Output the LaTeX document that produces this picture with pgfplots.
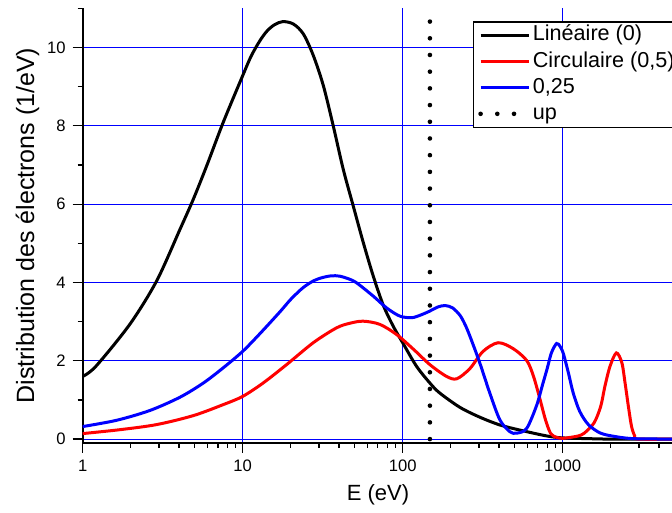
\documentclass[border=0pt]{standalone}
\usepackage{fontspec}
\setmainfont{Liberation Sans}
\usepackage{pgfplots}
\pgfplotsset{compat=1.18}
\begin{document}
\begin{tikzpicture}
\begin{axis}[
  scale only axis, width=294.65pt, height=217.35pt,
  xmode=log, xmin=1, xmax=4822, ymin=-0.1, ymax=11,
  axis x line=bottom, axis y line=left,
  axis line style={-, line width=1pt, black},
  xtick={1,10,100,1000}, xticklabels={1,10,100,1000},
  minor xtick={2,3,4,5,6,7,8,9,20,30,40,50,60,70,80,90,200,300,400,500,600,700,800,900,2000,3000,4000},
  ytick={0,2,4,6,8,10}, minor ytick={1,3,5,7,9,11},
  tick align=outside, major tick length=5pt, minor tick length=2.5pt,
  tick style={black, line width=0.6pt},
  xmajorgrids, ymajorgrids,
  major grid style={blue, line width=0.5pt},
  /pgf/number format/assume math mode=true,
  tick label style={font=\fontsize{8.3}{10}\selectfont},
  xlabel={E (eV)}, ylabel={Distribution des électrons (1/eV)},
  xlabel style={font=\fontsize{11}{13}\selectfont, at={(axis description cs:0.501,0)}, anchor=center, yshift=-26pt},
  ylabel style={font=\fontsize{12.5}{14}\selectfont, at={(axis description cs:0,0.5)}, anchor=center, rotate=0, yshift=27.6pt},
  legend style={at={(axis description cs:0.6618,0.970)}, anchor=north west,
    draw=black, line width=0.6pt, fill=white,
    font=\fontsize{10.8}{12}\selectfont,
    inner xsep=2.5pt, inner ysep=0.5pt, row sep=0.8pt,
    nodes={inner sep=1pt, text height=8pt, text depth=2.3pt},
    cells={anchor=west}},
  legend image code/.code={\draw[#1] (0pt,0pt) -- (24pt,0pt);},
]
\addplot[black, line width=1.5pt, smooth, tension=0.5] coordinates {
(1,1.60) (1.21,1.86) (1.97,2.93) (2.90,4.04) (4.06,5.36) (4.92,6.13) (5.96,6.98) (7.56,8.09) (10,9.28) (11.3,9.78) (12.8,10.17) (14.2,10.42) (15.8,10.58) (17.8,10.66) (20.7,10.60) (23.9,10.35) (27.6,9.80) (31.9,9.03) (36.8,8.00) (42.5,6.89) (49.1,5.95) (56.7,5.02) (65.5,4.16) (75.6,3.42) (87.3,2.88) (100,2.46) (122,1.86) (148,1.43) (170,1.18) (228,0.81) (303,0.56) (405,0.36) (540,0.23) (794,0.08) (1000,0.03) (1475,0.01) (2000,0) (5000,0)};
\addlegendentry{Linéaire (0)}
\addplot[red, line width=1.5pt, smooth, tension=0.5] coordinates {
(1,0.14) (1.71,0.24) (2.9,0.37) (4.92,0.60) (7.56,0.88) (10,1.09) (13.4,1.43) (18.8,1.90) (27.6,2.46) (38.6,2.84) (47,2.96) (56.7,3.01) (71.9,2.93) (91.6,2.67) (117,2.29) (148,1.90) (188,1.60) (218,1.54) (263,1.80) (318,2.24) (395,2.46) (490,2.31) (595,2.01) (655,1.62) (718,1.05) (780,0.50) (842,0.14) (920,0.04) (1000,0.02) (1103,0.04) (1250,0.08) (1363,0.15) (1569,0.41) (1727,0.83) (1837,1.35) (1977,1.86) (2165,2.20) (2343,1.95) (2455,1.43) (2575,0.83) (2695,0.32) (2820,0.08) (2950,0) (5000,0)};
\addlegendentry{Circulaire (0,5)}
\addplot[blue, line width=1.5pt, smooth, tension=0.5] coordinates {
(1,0.32) (1.63,0.48) (2.63,0.73) (4.06,1.07) (5.67,1.43) (7.56,1.82) (10,2.24) (12.8,2.69) (17.1,3.25) (20,3.57) (23.9,3.87) (28,4.05) (31.9,4.13) (36,4.17) (40.4,4.16) (46,4.09) (51.5,3.99) (65.5,3.65) (79.3,3.35) (96,3.14) (114,3.10) (130,3.17) (148,3.27) (165,3.37) (184,3.41) (205,3.35) (228,3.16) (245,2.93) (263,2.63) (303,1.95) (350,1.18) (405,0.49) (467,0.19) (515,0.15) (595,0.27) (686,0.85) (750,1.40) (800,1.80) (850,2.20) (916,2.44) (965,2.36) (1010,2.18) (1086,1.69) (1163,1.18) (1277,0.71) (1447,0.37) (1727,0.15) (2165,0.06) (2800,0.01) (5000,0)};
\addlegendentry{0,25}
\addplot[black, line width=2.3pt, line cap=round, dash pattern=on 0pt off 8.35pt] coordinates {(148,0) (148,10.85)};
\addlegendentry{up}
\end{axis}
\pgfresetboundingbox
\useasboundingbox (current axis.south west) ++(-41.35pt,-35pt) rectangle ([shift={(0pt,4.15pt)}]current axis.north east);
\end{tikzpicture}
\end{document}
